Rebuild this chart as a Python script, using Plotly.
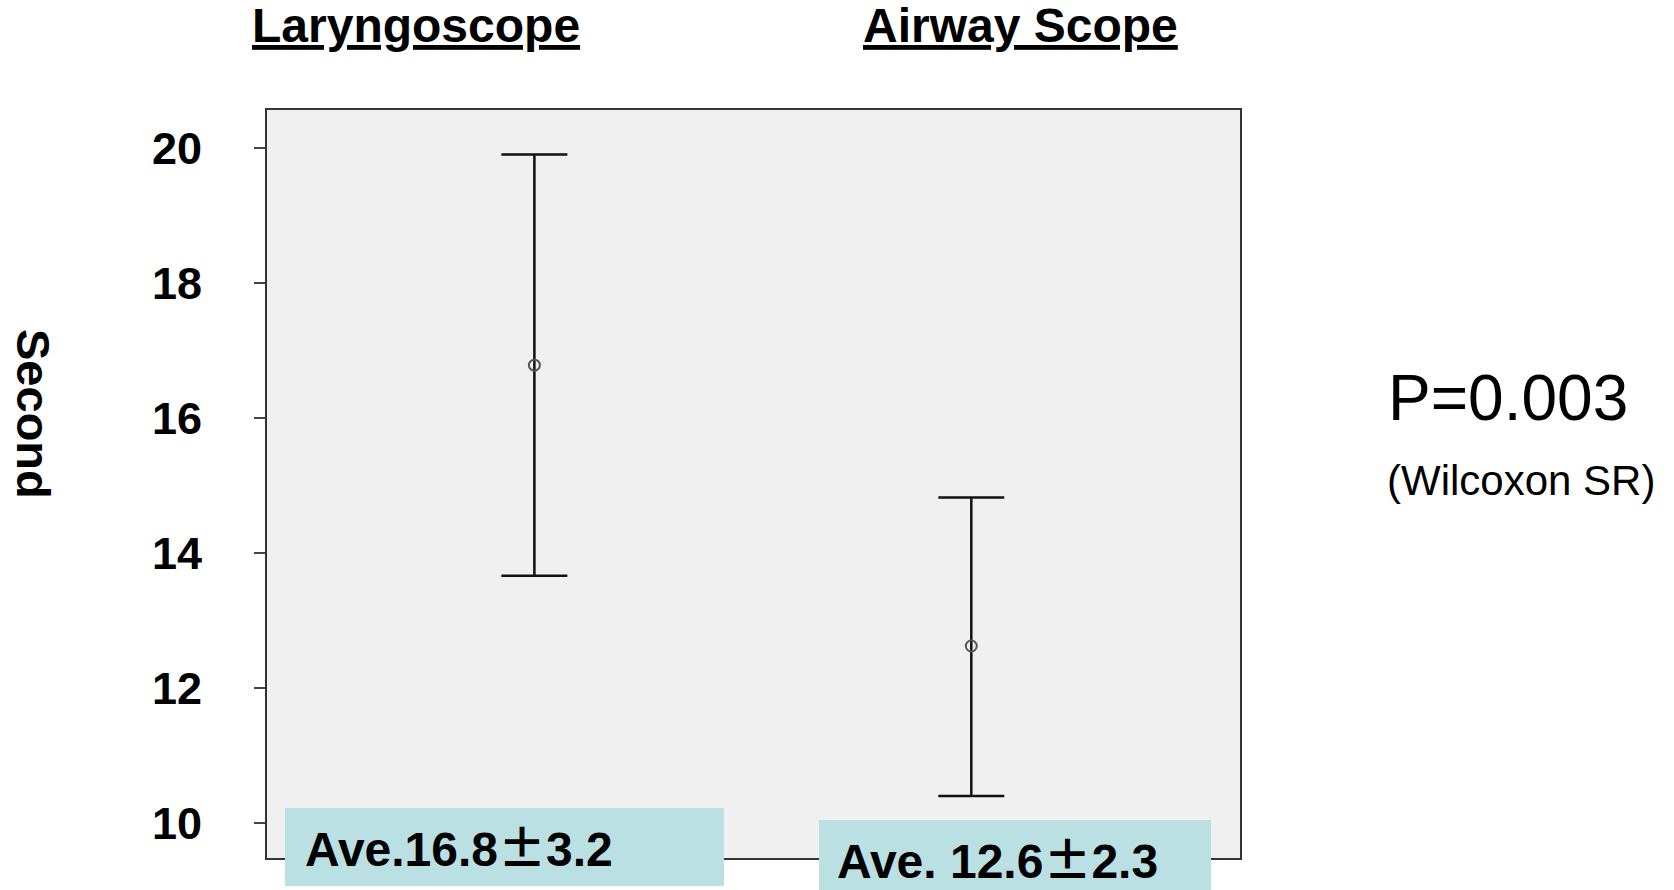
import plotly.graph_objects as go

# ---- data ----
categories = ["Laryngoscope", "Airway Scope"]
means = [16.78, 12.62]
err_plus = [3.12, 2.20]
err_minus = [3.12, 2.22]
box_labels = ["Ave.16.8±3.2", "Ave. 12.6±2.3"]
y_ticks = [10, 12, 14, 16, 18, 20]
p_text = "P=0.003"
test_text = "(Wilcoxon SR)"
y_title = "Second"
hidden_xlabel = "Normal_2"

W, H = 1674, 890
L, R, T, B = 267, 1240, 110, 858  # plot area in px


def px_x(px):
    return (px - L) / (R - L)


def px_y(py):
    return (B - py) / (B - T)


FONT = "Liberation Sans, Arial, sans-serif"
CJK = "Noto Sans CJK JP"
xpos = list(range(1, len(categories) + 1))

fig = go.Figure()
# partly hidden original x label (sits under the teal box)
fig.add_trace(go.Scatter(
    x=[xpos[0]], y=[8.93], mode="text", text=[hidden_xlabel],
    textfont=dict(family=FONT, size=15, color="#222"),
    cliponaxis=False, hoverinfo="skip", showlegend=False))

fig.add_trace(go.Scatter(
    x=xpos, y=means, mode="markers",
    marker=dict(symbol="circle-open", size=11, color="#555",
                line=dict(width=2, color="#555")),
    error_y=dict(type="data", array=err_plus, arrayminus=err_minus,
                 symmetric=False, color="#111", thickness=2.5, width=33),
    showlegend=False, hoverinfo="skip"))

fig.update_xaxes(range=[0.388, 2.615], showticklabels=False, ticks="",
                 showgrid=False, zeroline=False, showline=True,
                 linecolor="#333", linewidth=2, mirror=True)
fig.update_yaxes(range=[9.48, 20.56], tickvals=y_ticks, ticks="outside",
                 ticklen=11, tickwidth=2, tickcolor="#444",
                 showgrid=False, zeroline=False, showline=True,
                 linecolor="#333", linewidth=2, mirror=True,
                 ticklabelstandoff=43,
                 tickfont=dict(family=FONT, size=45, color="black",
                               weight="bold"))

annotations = []
# column headers
header_centers = [416, 1020]
for cat, cx in zip(categories, header_centers):
    annotations.append(dict(
        x=px_x(cx), y=px_y(25), xref="paper", yref="paper",
        text=f"<u>{cat}</u>", showarrow=False, xanchor="center",
        yanchor="middle",
        font=dict(family=FONT, size=48, color="black", weight="bold")))

# y title rotated clockwise
annotations.append(dict(
    x=px_x(33), y=px_y(414), xref="paper", yref="paper", text=y_title,
    textangle=90, showarrow=False, xanchor="center", yanchor="middle",
    font=dict(family=FONT, size=47, color="black", weight="bold")))

# p-value text
annotations.append(dict(
    x=px_x(1386), y=px_y(398), xref="paper", yref="paper", text=p_text,
    showarrow=False, xanchor="left", yanchor="middle",
    font=dict(family=FONT, size=64, color="black")))
annotations.append(dict(
    x=px_x(1385), y=px_y(480), xref="paper", yref="paper", text=test_text,
    showarrow=False, xanchor="left", yanchor="middle",
    font=dict(family=FONT, size=42, color="black")))

# teal summary boxes
boxes = [(285, 724, 808, 886, 303, 845), (819, 1211, 820, 892, 835, 857)]
shapes = []
for (x0, x1, y0, y1, tx, ty), lab in zip(boxes, box_labels):
    shapes.append(dict(type="rect", xref="paper", yref="paper",
                       x0=px_x(x0), x1=px_x(x1), y0=px_y(y1), y1=px_y(y0),
                       fillcolor="#BBE0E3", line=dict(width=0),
                       layer="above"))
    styled = lab.replace(
        "±", f"<span style='font-family:{CJK}'>±</span>")
    annotations.append(dict(
        x=px_x(tx), y=px_y(ty), xref="paper", yref="paper", text=styled,
        showarrow=False, xanchor="left", yanchor="middle",
        font=dict(family=FONT, size=48, color="black", weight="bold")))

fig.update_layout(
    width=W, height=H, autosize=False,
    margin=dict(l=L, r=W - R, t=T, b=H - B, pad=0),
    paper_bgcolor="white", plot_bgcolor="#F0F0F0",
    annotations=annotations, shapes=shapes,
    font=dict(family=FONT, color="black"))

fig.write_html("out.html", config={"displayModeBar": False},
               post_script="document.body.style.margin='0';")
